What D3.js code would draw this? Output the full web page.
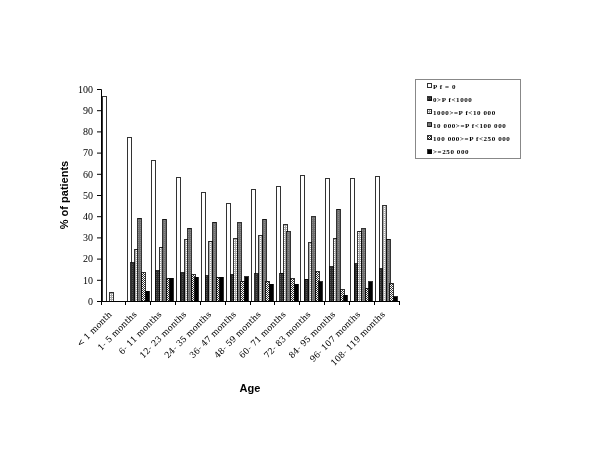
<!DOCTYPE html>
<html><head><meta charset="utf-8">
<script src="https://cdn.jsdelivr.net/npm/d3@7"></script>
<style>body{margin:0;background:#fff}svg{display:block;filter:grayscale(1)}</style>
</head><body>
<svg id="c" width="600" height="450"></svg>
<script>
const categories = ["< 1 month","1- 5 months","6- 11 months","12- 23 months","24- 35 months","36- 47 months","48- 59 months","60- 71 months","72- 83 months","84- 95 months","96- 107 months","108- 119 months"];
const seriesNames = ["P f = 0","0>P f<1000","1000>=P f<10 000","10 000>=P f<100 000","100 000>=P f<250 000",">=250 000"];
const pf0      = [96.4, 77.2, 66.5, 58.3, 51.1, 45.8, 52.7, 53.9, 59.4, 57.6, 57.9, 58.8];
const pf1000   = [0, 18.1, 14.2, 13.4, 11.9, 12.3, 12.8, 13.2, 10.2, 16.2, 17.5, 15.1];
const pf10000  = [4.1, 24.5, 25.3, 28.8, 28.3, 29.6, 30.8, 36.2, 27.4, 29.6, 33.0, 45.0];
const pf100000 = [0, 39.0, 38.5, 34.3, 37.1, 36.8, 38.5, 32.7, 39.8, 43.3, 34.0, 29.2];
const pf250000 = [0, 13.4, 10.7, 12.3, 11.3, 9.4, 9.4, 10.4, 13.7, 5.2, 6.1, 8.3];
const pfOver   = [0, 4.7, 10.7, 11.2, 11.3, 11.5, 8.0, 8.0, 9.1, 2.8, 9.1, 2.0];
const yTicks = [0,10,20,30,40,50,60,70,80,90,100];
const seriesValues = [pf0, pf1000, pf10000, pf100000, pf250000, pfOver];

const svg = d3.select("#c");
const defs = svg.append("defs");
function pat(id, bg, fg, cells){
  const p = defs.append("pattern").attr("id", id).attr("patternUnits","userSpaceOnUse").attr("width",2).attr("height",2);
  p.append("rect").attr("width",2).attr("height",2).attr("fill",bg);
  cells.forEach(c=>p.append("rect").attr("x",c[0]).attr("y",c[1]).attr("width",1).attr("height",1).attr("fill",fg));
}
pat("pDark","#2e2e2e","#555",[[0,0]]);
pat("pLight","#aaaaaa","#ffffff",[[0,0]]);
pat("pGrey","#6e6e6e","#8c8c8c",[[0,0]]);
pat("pCheck","#ffffff","#333333",[[0,0],[1,1]]);
const fills = ["#ffffff","url(#pDark)","url(#pLight)","url(#pGrey)","url(#pCheck)","#000000"];

const x = d3.scaleBand().domain(categories).range([101, 399]).padding(0);
const xs = d3.scaleBand().domain(d3.range(6)).range([0.8, 22.4]).padding(0);
const y = d3.scaleLinear().domain([0,100]).range([301, 89]);

const g = svg.append("g").attr("shape-rendering","crispEdges");
seriesValues.forEach((vals, si)=>{
  g.selectAll(null).data(categories.map((c,i)=>({c, v: vals[i]})).filter(d=>d.v>0))
   .enter().append("rect")
   .attr("x", d=> Math.round(x(d.c) + xs(si)) + 0.5)
   .attr("y", d=> y(d.v))
   .attr("width", xs.bandwidth())
   .attr("height", d=> y(0) - y(d.v))
   .attr("fill", fills[si])
   .attr("stroke", "#000").attr("stroke-width", 0.8);
});

// Y axis
const ya = svg.append("g").attr("transform","translate(101,0)")
  .call(d3.axisLeft(y).tickValues(yTicks).tickSize(4).tickPadding(4));
ya.attr("font-family","Liberation Serif, serif").attr("font-size",10);
ya.select(".domain").attr("stroke","#000");
ya.selectAll("text").attr("fill","#000");

// X axis
const xa = svg.append("g").attr("transform","translate(0,301)");
xa.append("line").attr("x1",101).attr("x2",399).attr("y1",0).attr("y2",0).attr("stroke","#000").attr("shape-rendering","crispEdges");
const bounds = categories.map(c=>x(c)).concat([x.range()[1]]);
xa.selectAll("line.t").data(bounds).enter().append("line").attr("class","t")
  .attr("x1",d=>d).attr("x2",d=>d).attr("y1",0).attr("y2",4).attr("stroke","#000").attr("shape-rendering","crispEdges");
svg.append("g").selectAll("text").data(categories).enter().append("text")
  .attr("transform", d=>`translate(${x(d)+x.bandwidth()/2-1},315) rotate(-45)`)
  .attr("text-anchor","end")
  .attr("font-family","DejaVu Serif, serif").attr("font-size",8.5).attr("fill","#000")
  .text(d=>d);

// Titles
svg.append("text").attr("transform","translate(68,195) rotate(-90)").attr("text-anchor","middle")
  .attr("font-family","Liberation Sans, Arial, sans-serif").attr("font-weight","bold").attr("font-size",11).text("% of patients");
svg.append("text").attr("x",250).attr("y",392).attr("text-anchor","middle")
  .attr("font-family","Liberation Sans, Arial, sans-serif").attr("font-weight","bold").attr("font-size",11).text("Age");

// Legend
const lg = svg.append("g");
lg.append("rect").attr("x",415.5).attr("y",79.5).attr("width",105).attr("height",78.5)
  .attr("fill","#fff").attr("stroke","#888").attr("shape-rendering","crispEdges");
const ly = d3.scalePoint().domain(seriesNames).range([86, 151.5]);
seriesNames.forEach((n,i)=>{
  lg.append("rect").attr("x",427.5).attr("y",Math.round(ly(n))-2.5).attr("width",4).attr("height",4)
    .attr("fill",fills[i]).attr("stroke","#000").attr("stroke-width",0.8).attr("shape-rendering","crispEdges");
  lg.append("text").attr("x",433).attr("y",ly(n)+2.5)
    .attr("font-family","Liberation Serif, serif").attr("font-weight","bold").attr("font-size",7)
    .attr("letter-spacing",0.6).attr("fill","#000").text(n);
});
</script>
</body></html>
